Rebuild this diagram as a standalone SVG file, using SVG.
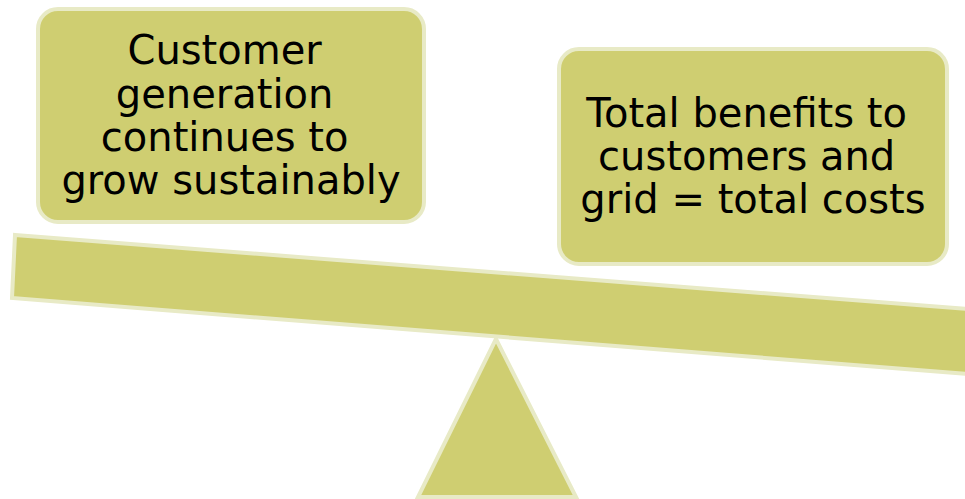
<svg xmlns="http://www.w3.org/2000/svg" width="965" height="499" viewBox="0 0 965 499">
  <style>
    .shape { fill: #cfce71; stroke: #e8eac6; stroke-width: 4; stroke-linejoin: miter; }
    .label { font-family: "DejaVu Sans", Verdana, sans-serif; font-size: 40px; fill: #000000; text-anchor: middle; }
  </style>
  <rect width="965" height="499" fill="#ffffff"/>

  <!-- seesaw fulcrum -->
  <g id="fulcrum">
    <polygon class="shape" points="496,339 418,497 576,497"/>
  </g>

  <!-- tilted beam -->
  <g id="beam">
    <polygon class="shape" points="15,235 980,310 980,375 12,298"/>
  </g>

  <!-- left load -->
  <g id="box-left">
    <rect class="shape" x="38" y="9" width="386" height="213" rx="20" ry="20"/>
    <text class="label">
      <tspan x="231" y="64">Customer</tspan>
      <tspan x="231" y="108">generation</tspan>
      <tspan x="231" y="151">continues to</tspan>
      <tspan x="231" y="194">grow sustainably</tspan>
    </text>
  </g>

  <!-- right load -->
  <g id="box-right">
    <rect class="shape" x="559" y="49" width="388" height="215" rx="20" ry="20"/>
    <text class="label">
      <tspan x="753" y="127">Total benefits to</tspan>
      <tspan x="753" y="170">customers and</tspan>
      <tspan x="753" y="213">grid = total costs</tspan>
    </text>
  </g>

  <g id="connectors"/>
</svg>
